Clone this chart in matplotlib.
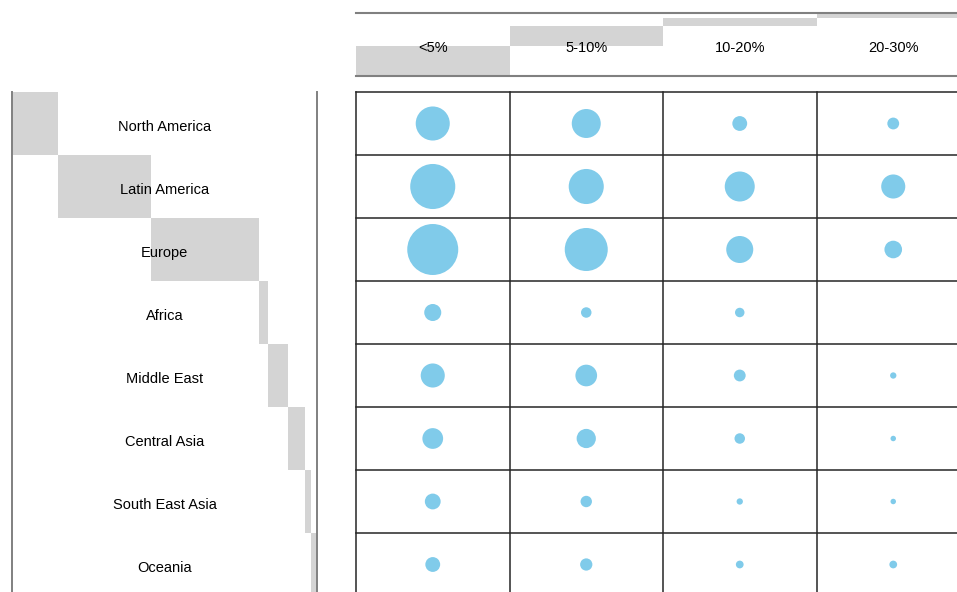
import matplotlib
matplotlib.use("Agg")
import matplotlib.pyplot as plt
import numpy as np

# ---------------- data ----------------
regions = ["North America", "Latin America", "Europe", "Africa",
           "Middle East", "Central Asia", "South East Asia", "Oceania"]
bands = ["<5%", "5-10%", "10-20%", "20-30%"]

# bubble values (area-proportional), one list per band, in region order
v_lt5 = [116, 203, 260, 29, 58, 43, 25, 22]
v_5_10 = [84, 123, 185, 11, 47, 37, 13, 15]
v_10_20 = [22, 90, 73, 9, 14, 11, 4, 6]
v_20_30 = [14, 58, 31, 0, 4, 3, 3, 6]

# marginal shares (%) shown by the grey cascades
row_share = [15.2, 30.4, 35.4, 2.8, 6.8, 5.4, 2.0, 2.0]
col_share = [47.5, 31.4, 13.5, 7.6]

# ---------------- style ----------------
W, H, DPI = 957, 592, 100
FONT = "Liberation Sans"
GREY = "#d4d4d4"
BLUE = "#80cbea"
GRID = "#262626"
FRAME = "#808080"
plt.rcParams["font.family"] = [FONT, "DejaVu Sans"]


def rect(x0, y0, x1, y1):
    return [x0 / W, 1 - y1 / H, (x1 - x0) / W, (y1 - y0) / H]


fig = plt.figure(figsize=(W / DPI, H / DPI), dpi=DPI)
fig.patch.set_facecolor("white")

n_rows = len(regions)
n_cols = len(bands)

# ---------------- main bubble grid ----------------
ax = fig.add_axes(rect(356, 92, 970, 596))
ax.set_xlim(0, n_cols)
ax.set_ylim(n_rows, 0)
ax.axis("off")
for c in range(n_cols):
    ax.axvline(c, color=GRID, lw=1.1, clip_on=False)
for r in range(n_rows):
    ax.axhline(r, color=GRID, lw=1.1, clip_on=False)

matrix = np.array([v_lt5, v_5_10, v_10_20, v_20_30])  # shape (cols, rows)
px_to_pt = 72.0 / DPI
for c in range(n_cols):
    xs = np.full(n_rows, c + 0.5)
    ys = np.arange(n_rows) + 0.5
    vals = matrix[c].astype(float)
    sizes = vals * 10.0 * px_to_pt ** 2  # value*10 = diameter_px^2
    ax.scatter(xs, ys, s=sizes, color=BLUE, linewidths=0, zorder=3)

# ---------------- left cascade (row shares) ----------------
axl = fig.add_axes(rect(12, 92, 317, 596))
axl.set_xlim(0, 100)
axl.set_ylim(n_rows, 0)
axl.axis("off")
lefts = np.concatenate([[0], np.cumsum(row_share)[:-1]])
axl.barh(np.arange(n_rows), row_share, left=lefts, height=1.0, align="edge",
         color=GREY, linewidth=0, zorder=1)
axl.axvline(0, color=FRAME, lw=1.4, clip_on=False, zorder=2)
axl.axvline(100, color=FRAME, lw=1.4, clip_on=False, zorder=2)
for r, name in enumerate(regions):
    axl.text(50, r + 0.55, name, ha="center", va="center", fontsize=10.5,
             color="#000000", zorder=3)

# ---------------- top cascade (column shares) ----------------
axh = fig.add_axes(rect(356, 13, 970, 76))
axh.set_xlim(0, n_cols)
axh.set_ylim(100, 0)
axh.axis("off")
bottoms = 100 - np.cumsum(col_share)
axh.bar(np.arange(n_cols), col_share, bottom=bottoms, width=1.0, align="edge",
        color=GREY, linewidth=0, zorder=1)
axh.axhline(0, color=FRAME, lw=1.5, clip_on=False, zorder=2)
axh.axhline(100, color=FRAME, lw=1.5, clip_on=False, zorder=2)
for c, lab in enumerate(bands):
    axh.text(c + 0.5, 55, lab, ha="center", va="center", fontsize=10.5,
             color="#000000", zorder=3)

fig.savefig("out.png", dpi=DPI, facecolor="white")
